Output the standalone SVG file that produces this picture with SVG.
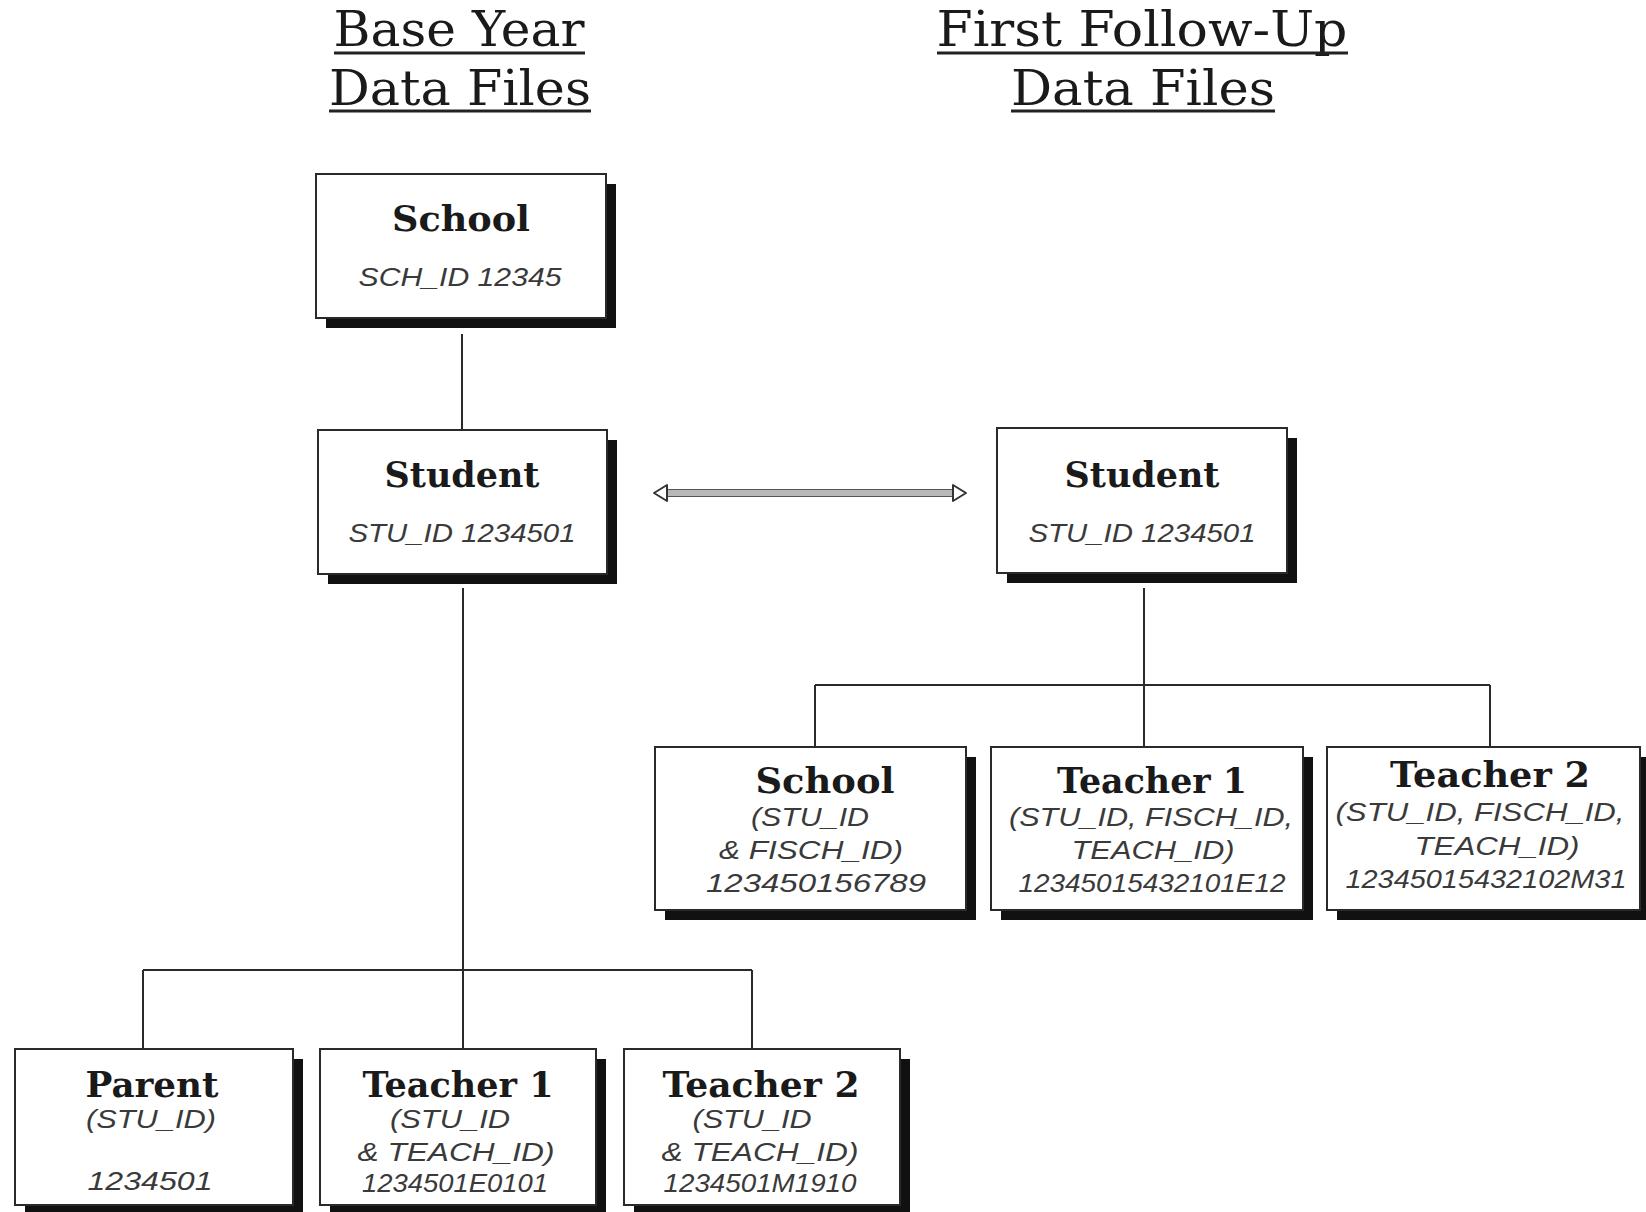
<svg xmlns="http://www.w3.org/2000/svg" width="1646" height="1212" viewBox="0 0 1646 1212">
<style>
.bg{fill:#ffffff}
.box{fill:#ffffff;stroke:#2a2a2a;stroke-width:2}
.shadow{fill:#111111}
.title{font-family:"DejaVu Serif","Liberation Serif",serif;font-size:48px;fill:#1a1a1a;text-anchor:middle}
.uline{stroke:#222;stroke-width:3}
.name{font-family:"DejaVu Serif","Liberation Serif",serif;font-weight:bold;font-size:36px;fill:#1a1a1a;text-anchor:middle}
.id{font-family:"Liberation Sans","DejaVu Sans",sans-serif;font-style:italic;font-size:26px;fill:#3a3a3a;text-anchor:middle}
.conn{stroke:#2a2a2a;stroke-width:2;fill:none}
</style>
<rect class="bg" x="0" y="0" width="1646" height="1212"/>

<g id="titles">
<text class="title" x="459" y="46" textLength="251" lengthAdjust="spacingAndGlyphs">Base Year</text>
<line class="uline" x1="334" y1="53" x2="585" y2="53"/>
<text class="title" x="460" y="105" textLength="262" lengthAdjust="spacingAndGlyphs">Data Files</text>
<line class="uline" x1="329" y1="111" x2="591" y2="111"/>
<text class="title" x="1142" y="46" textLength="411" lengthAdjust="spacingAndGlyphs">First Follow-Up</text>
<line class="uline" x1="937" y1="53" x2="1348" y2="53"/>
<text class="title" x="1143" y="105" textLength="264" lengthAdjust="spacingAndGlyphs">Data Files</text>
<line class="uline" x1="1011" y1="111" x2="1275" y2="111"/>
</g>

<g id="connectors">
<line class="conn" x1="462" y1="334" x2="462" y2="430"/>
<line class="conn" x1="463" y1="588" x2="463" y2="1049"/>
<line class="conn" x1="143" y1="970" x2="752" y2="970"/>
<line class="conn" x1="143" y1="970" x2="143" y2="1049"/>
<line class="conn" x1="752" y1="970" x2="752" y2="1049"/>
<line class="conn" x1="1144" y1="588" x2="1144" y2="747"/>
<line class="conn" x1="815" y1="685" x2="1490" y2="685"/>
<line class="conn" x1="815" y1="685" x2="815" y2="747"/>
<line class="conn" x1="1490" y1="685" x2="1490" y2="747"/>
<g id="link-arrow">
<rect x="667" y="489.5" width="286" height="7" fill="#b8b8b8" stroke="#555" stroke-width="1"/>
<polygon points="654,493 667,485 667,501" fill="#fff" stroke="#333" stroke-width="2" stroke-linejoin="round"/>
<polygon points="966,493 953,485 953,501" fill="#fff" stroke="#333" stroke-width="2" stroke-linejoin="round"/>
</g>
</g>

<g id="by-school">
<rect class="shadow" x="326" y="184" width="290" height="144"/>
<rect class="box" x="316" y="174" width="290" height="144"/>
<text class="name" x="461" y="231" textLength="138" lengthAdjust="spacingAndGlyphs">School</text>
<text class="id" x="460" y="286" textLength="203" lengthAdjust="spacingAndGlyphs">SCH_ID 12345</text>
</g>

<g id="by-student">
<rect class="shadow" x="328" y="440" width="289" height="144"/>
<rect class="box" x="318" y="430" width="289" height="144"/>
<text class="name" x="462" y="487" textLength="155" lengthAdjust="spacingAndGlyphs">Student</text>
<text class="id" x="462" y="542" textLength="227" lengthAdjust="spacingAndGlyphs">STU_ID 1234501</text>
</g>

<g id="fu-student">
<rect class="shadow" x="1007" y="438" width="290" height="145"/>
<rect class="box" x="997" y="428" width="290" height="145"/>
<text class="name" x="1142" y="487" textLength="155" lengthAdjust="spacingAndGlyphs">Student</text>
<text class="id" x="1142" y="542" textLength="227" lengthAdjust="spacingAndGlyphs">STU_ID 1234501</text>
</g>

<g id="fu-school">
<rect class="shadow" x="665" y="757" width="311" height="163"/>
<rect class="box" x="655" y="747" width="311" height="163"/>
<text class="name" x="825" y="793" textLength="139" lengthAdjust="spacingAndGlyphs">School</text>
<text class="id" x="810" y="826" textLength="118" lengthAdjust="spacingAndGlyphs">(STU_ID</text>
<text class="id" x="811" y="859" textLength="184" lengthAdjust="spacingAndGlyphs">&amp; FISCH_ID)</text>
<text class="id" x="816" y="892" textLength="220" lengthAdjust="spacingAndGlyphs">123450156789</text>
</g>

<g id="fu-teacher1">
<rect class="shadow" x="1001" y="757" width="312" height="163"/>
<rect class="box" x="991" y="747" width="312" height="163"/>
<text class="name" x="1152" y="793" textLength="190" lengthAdjust="spacingAndGlyphs">Teacher 1</text>
<text class="id" x="1151" y="826" textLength="284" lengthAdjust="spacingAndGlyphs">(STU_ID, FISCH_ID,</text>
<text class="id" x="1153" y="859" textLength="163" lengthAdjust="spacingAndGlyphs">TEACH_ID)</text>
<text class="id" x="1152" y="892" textLength="267" lengthAdjust="spacingAndGlyphs">12345015432101E12</text>
</g>

<g id="fu-teacher2">
<rect class="shadow" x="1337" y="757" width="313" height="163"/>
<rect class="box" x="1327" y="747" width="313" height="163"/>
<text class="name" x="1490" y="787" textLength="200" lengthAdjust="spacingAndGlyphs">Teacher 2</text>
<text class="id" x="1480" y="821" textLength="289" lengthAdjust="spacingAndGlyphs">(STU_ID, FISCH_ID,</text>
<text class="id" x="1497" y="855" textLength="165" lengthAdjust="spacingAndGlyphs">TEACH_ID)</text>
<text class="id" x="1486" y="888" textLength="281" lengthAdjust="spacingAndGlyphs">12345015432102M31</text>
</g>

<g id="by-parent">
<rect class="shadow" x="25" y="1059" width="278" height="156"/>
<rect class="box" x="15" y="1049" width="278" height="156"/>
<text class="name" x="152" y="1097" textLength="133" lengthAdjust="spacingAndGlyphs">Parent</text>
<text class="id" x="151" y="1128" textLength="130" lengthAdjust="spacingAndGlyphs">(STU_ID)</text>
<text class="id" x="150" y="1190" textLength="125" lengthAdjust="spacingAndGlyphs">1234501</text>
</g>

<g id="by-teacher1">
<rect class="shadow" x="330" y="1059" width="276" height="156"/>
<rect class="box" x="320" y="1049" width="276" height="156"/>
<text class="name" x="458" y="1097" textLength="191" lengthAdjust="spacingAndGlyphs">Teacher 1</text>
<text class="id" x="450" y="1128" textLength="120" lengthAdjust="spacingAndGlyphs">(STU_ID</text>
<text class="id" x="456" y="1161" textLength="197" lengthAdjust="spacingAndGlyphs">&amp; TEACH_ID)</text>
<text class="id" x="455" y="1192" textLength="186" lengthAdjust="spacingAndGlyphs">1234501E0101</text>
</g>

<g id="by-teacher2">
<rect class="shadow" x="634" y="1059" width="276" height="156"/>
<rect class="box" x="624" y="1049" width="276" height="156"/>
<text class="name" x="761" y="1097" textLength="197" lengthAdjust="spacingAndGlyphs">Teacher 2</text>
<text class="id" x="752" y="1128" textLength="119" lengthAdjust="spacingAndGlyphs">(STU_ID</text>
<text class="id" x="760" y="1161" textLength="197" lengthAdjust="spacingAndGlyphs">&amp; TEACH_ID)</text>
<text class="id" x="760" y="1192" textLength="193" lengthAdjust="spacingAndGlyphs">1234501M1910</text>
</g>
</svg>
